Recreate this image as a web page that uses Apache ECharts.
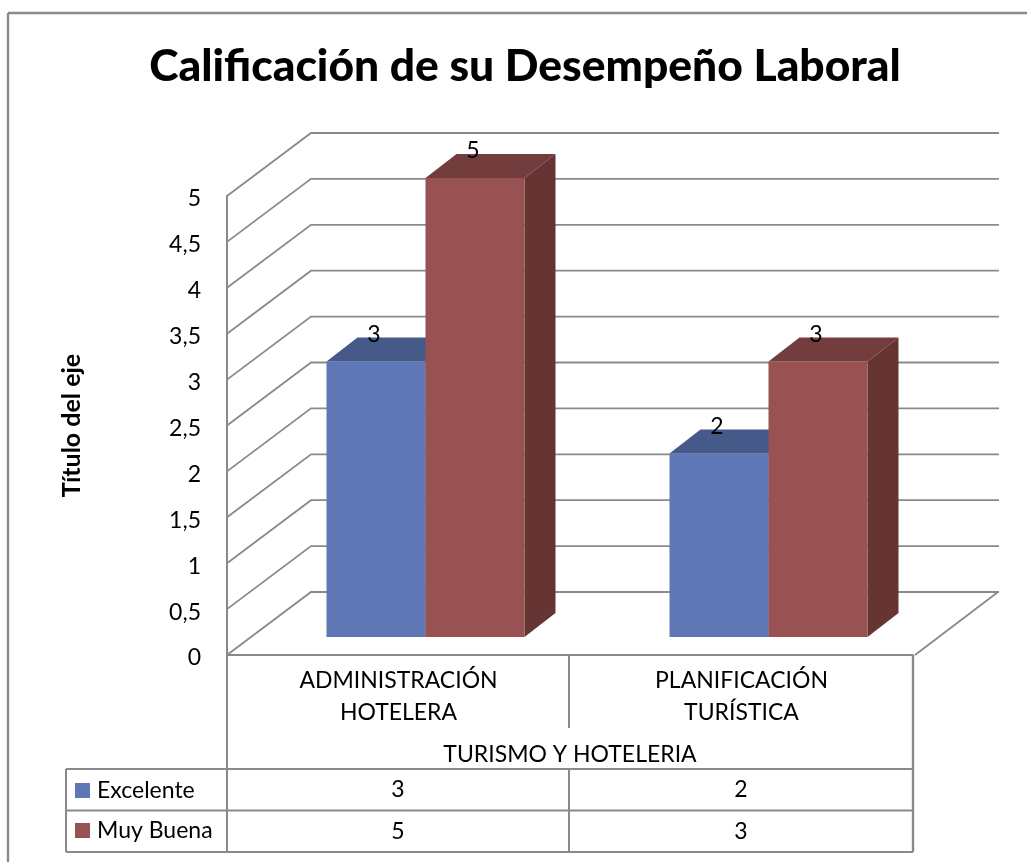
<!DOCTYPE html>
<html><head><meta charset="utf-8">
<style>html,body{margin:0;padding:0;background:#fff}#c{width:1027px;height:862px}</style>
<script src="https://cdn.jsdelivr.net/npm/echarts@6/dist/echarts.min.js"></script>
</head><body><div id="c"></div>
<script>
const titleText = 'Calificación de su Desempeño Laboral';
const yAxisTitle = 'Título del eje';
const parentCategory = 'TURISMO Y HOTELERIA';
const categories = ['ADMINISTRACIÓN\nHOTELERA', 'PLANIFICACIÓN\nTURÍSTICA'];
const excelente = [3, 2];
const muyBuena = [5, 3];
const yTicks = [0, 0.5, 1, 1.5, 2, 2.5, 3, 3.5, 4, 4.5, 5];

const FONT = 'Lato, "Noto Sans", sans-serif';
const FS = 23;
const GRID = {l: 227, t: 196, w: 686, h: 459};
const LINE = '#8a8a8a';
const WALL = {dx: 84, dy: -63, right: 999};
const BAR = {w: 99, ox: 27, oy: -18, dx: 31, dy: -24};
const rows = [{name: 'Excelente', vals: excelente}, {name: 'Muy Buena', vals: muyBuena}];
const TABLE = {left: 66, axis: 227, mid: 569, right: 913, top: 769, rowH: 41.5};

function wallItem(params, api) {
  const v = api.value(0);
  const x0 = params.coordSys.x;
  const y = api.coord([0, v])[1];
  const pts = [[x0, y], [x0 + WALL.dx, y + WALL.dy], [WALL.right, y + WALL.dy]];
  return {type: 'polyline', shape: {points: pts}, style: {fill: null, stroke: LINE, lineWidth: 1.8}, silent: true};
}
function barSeries(name, values, side, front, top, sideC) {
  return {
    type: 'custom', name, z: 3, clip: false,
    itemStyle: {color: front},
    data: values.map((v, i) => [i, v]),
    encode: {x: 0, y: 1},
    renderItem(params, api) {
      const c = api.coord([api.value(0), api.value(1)]);
      const b = api.coord([api.value(0), 0]);
      const x1 = c[0] + BAR.ox + (side < 0 ? -BAR.w : 0), x2 = x1 + BAR.w;
      const yt = c[1] + BAR.oy, yb = b[1] + BAR.oy;
      const poly = (points, fill) => ({type: 'polygon', shape: {points}, style: {fill}});
      return {type: 'group', children: [
        poly([[x1, yt], [x1 + BAR.dx, yt + BAR.dy], [x2 + BAR.dx, yt + BAR.dy], [x2, yt]], top),
        poly([[x2, yt], [x2 + BAR.dx, yt + BAR.dy], [x2 + BAR.dx, yb + BAR.dy], [x2, yb]], sideC),
        poly([[x1, yt], [x2, yt], [x2, yb], [x1, yb]], front),
        {type: 'text', z2: 10, style: {text: String(api.value(1)), x: (x1 + x2) / 2 - 2, y: yt - 27,
          font: FS + 'px ' + FONT, fill: '#000', align: 'center', verticalAlign: 'middle'}}
      ]};
    }
  };
}
const line = (x1, y1, x2, y2, w) => ({type: 'line', shape: {x1, y1, x2, y2}, style: {stroke: LINE, lineWidth: w || 2}, silent: true});
const txt = (text, x, y, align) => ({type: 'text', style: {text, x, y, align: align || 'center', verticalAlign: 'middle', font: FS + 'px ' + FONT, fill: '#000'}});

const graphics = [
  line(8, 13, 1027, 13, 2.4), line(8, 13, 8, 862, 2.4),
  line(915, 655, 998, 592, 1.8),
  line(TABLE.mid, 655, TABLE.mid, 728), line(TABLE.axis, 655, TABLE.axis, TABLE.top + 2 * TABLE.rowH),
  line(TABLE.right, 655, TABLE.right, TABLE.top + 2 * TABLE.rowH, 2.4),
  txt(parentCategory, (TABLE.axis + TABLE.right) / 2, 755),
  line(TABLE.left, TABLE.top, TABLE.left, TABLE.top + 2 * TABLE.rowH)
];
[0, 1, 2].forEach(i => graphics.push(line(TABLE.left, TABLE.top + i * TABLE.rowH, TABLE.right, TABLE.top + i * TABLE.rowH)));
graphics.push(line(TABLE.mid, TABLE.top, TABLE.mid, TABLE.top + 2 * TABLE.rowH));
rows.forEach((r, i) => r.vals.forEach((v, j) => {
  graphics.push(txt(String(v), (j === 0 ? (TABLE.axis + TABLE.mid) : (TABLE.mid + TABLE.right)) / 2, TABLE.top + (i + 0.5) * TABLE.rowH));
}));

const option = {
  animation: false,
  backgroundColor: '#fff',
  textStyle: {fontFamily: FONT},
  title: {text: titleText, left: 520, top: 40, textAlign: 'center',
    textStyle: {fontFamily: FONT, fontSize: 44.4, fontWeight: 900, color: '#000'}},
  legend: {show: true, orient: 'vertical', left: 70, top: 774, itemWidth: 15, itemHeight: 15, itemGap: 17,
    icon: 'rect', itemStyle: {borderWidth: 0},
    textStyle: {fontFamily: FONT, fontSize: FS, color: '#000', padding: [0, 0, 0, 2]},
    data: rows.map(r => r.name)},
  grid: {left: GRID.l, top: GRID.t, width: GRID.w, height: GRID.h, containLabel: false},
  xAxis: {type: 'category', data: categories,
    axisLine: {lineStyle: {color: LINE, width: 2}}, axisTick: {show: false},
    axisLabel: {interval: 0, color: '#000', fontSize: FS, lineHeight: 32, margin: 10, fontFamily: FONT}},
  yAxis: {type: 'value', min: 0, max: 5, interval: 0.5,
    name: yAxisTitle, nameLocation: 'middle', nameGap: 143, nameRotate: 90,
    nameTextStyle: {fontWeight: 'bold', fontSize: 25, color: '#000', fontFamily: FONT},
    axisLine: {show: true, lineStyle: {color: LINE, width: 2}}, axisTick: {show: false},
    splitLine: {show: false},
    axisLabel: {color: '#000', fontSize: FS, margin: 26, lineHeight: 23, fontFamily: FONT,
      formatter: v => '{d|' + String(v).replace('.', ',') + '}',
      rich: {d: {fontSize: FS, fontFamily: FONT, color: '#000', padding: [6, 0, 0, 0]}}}},
  series: [
    {type: 'custom', name: 'walls', z: 1, clip: false, silent: true, data: yTicks.map(v => [v]), encode: {y: 0}, renderItem: wallItem},
    barSeries(rows[0].name, excelente, -1, '#5F77B5', '#465A8A', '#465A8A'),
    barSeries(rows[1].name, muyBuena, 1, '#985252', '#743D3D', '#673434')
  ],
  graphic: {elements: graphics}
};
const chart = echarts.init(document.getElementById('c'), null, {renderer: 'canvas'});
chart.setOption(option);
</script></body></html>
